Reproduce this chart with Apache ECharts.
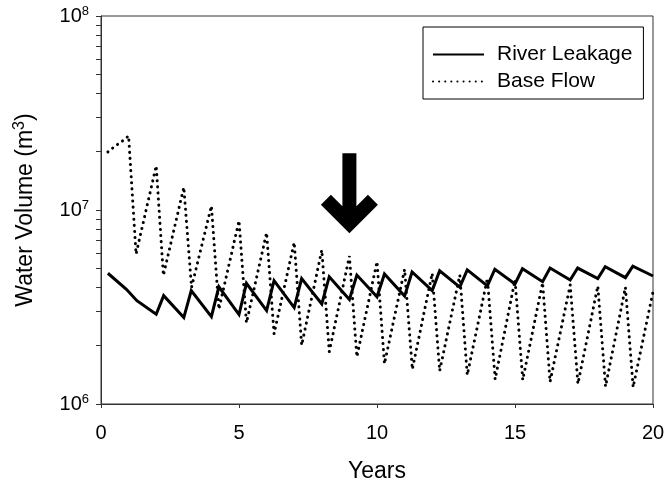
<!DOCTYPE html>
<html>
<head>
	<meta charset="utf-8" />
	<title>Water Volume</title>
	<script src="https://cdn.jsdelivr.net/npm/echarts@6/dist/echarts.min.js"></script>
	<style>
		html, body { margin: 0; padding: 0; background: #fff; }
		#chart { width: 666px; height: 485px; }
	</style>
</head>
<body>
<div id="chart"></div>
<script type="text/javascript">
// River leakage, years and values (m3)
var leakYears = [0.25, 0.92, 1.3, 2, 2.27, 3, 3.27, 4, 4.27, 5, 5.27, 6, 6.27, 7, 7.27, 8, 8.27, 9, 9.27, 10,
	10.27, 11, 11.27, 12, 12.27, 13, 13.27, 14, 14.27, 15, 15.27, 16, 16.27, 17, 17.27, 18, 18.27, 19, 19.27, 20];
var leakValues = [4.72e6, 3.90e6, 3.41e6, 2.90e6, 3.62e6, 2.79e6, 3.84e6, 2.82e6, 4.02e6, 2.89e6,
	4.19e6, 3.03e6, 4.32e6, 3.14e6, 4.43e6, 3.28e6, 4.53e6, 3.46e6, 4.62e6, 3.57e6,
	4.68e6, 3.60e6, 4.79e6, 3.84e6, 4.86e6, 4.00e6, 4.91e6, 4.06e6, 4.95e6, 4.16e6,
	4.98e6, 4.27e6, 5.02e6, 4.36e6, 5.02e6, 4.43e6, 5.10e6, 4.48e6, 5.13e6, 4.57e6];

// Base flow
var baseYears = [0.25, 0.5, 0.75, 1, 1.27, 2, 2.26, 3, 3.28, 4, 4.27, 5, 5.27, 6, 6.27, 7, 7.27, 8, 8.27, 9, 9.27, 10,
	10.27, 11, 11.28, 12, 12.27, 13, 13.27, 14, 14.28, 15, 15.28, 16, 16.27, 17, 17.28, 18, 18.28, 19, 19.28, 20];
var baseValues = [19.9e6, 21.3e6, 22.5e6, 24.1e6, 5.93e6, 16.9e6, 4.60e6, 13.1e6, 3.99e6, 10.5e6, 3.08e6,
	8.81e6, 2.62e6, 7.64e6, 2.30e6, 6.81e6, 2.01e6, 6.22e6, 1.86e6, 5.79e6, 1.75e6, 5.42e6,
	1.61e6, 4.95e6, 1.51e6, 4.72e6, 1.48e6, 4.62e6, 1.41e6, 4.45e6, 1.34e6, 4.36e6, 1.33e6,
	4.22e6, 1.30e6, 4.11e6, 1.27e6, 4.06e6, 1.23e6, 4.00e6, 1.22e6, 3.79e6];

var xTicks = [0, 5, 10, 15, 20];
var yMajor = [1e6, 1e7, 1e8];
var yMinor = [2e6, 3e6, 4e6, 5e6, 6e6, 7e6, 8e6, 9e6, 2e7, 3e7, 4e7, 5e7, 6e7, 7e7, 8e7, 9e7];

// arrow marker: year 9, centred around 1.22e7
var arrowAt = [9, 1.22e7];

function pairs(xs, ys) {
	var out = [];
	for (var i = 0; i < xs.length; i++) out.push([xs[i], ys[i]]);
	return out;
}

var font = 'Liberation Sans, Arial, sans-serif';
var myChart = echarts.init(document.getElementById('chart'));
var option = {
	animation: false,
	textStyle: { fontFamily: font, color: '#000' },
	grid: {
		left: 101, right: 13, top: 16, bottom: 81,
		outerBoundsMode: 'none',
		show: true, borderColor: '#333', borderWidth: 1
	},
	legend: {
		orient: 'vertical',
		left: 423, top: 27,
		padding: [17, 11, 7, 9],
		borderColor: '#000', borderWidth: 1,
		itemWidth: 51, itemHeight: 14, itemGap: 6,
		itemStyle: { opacity: 0 },
		textStyle: { fontFamily: font, fontSize: 21, color: '#000', padding: [0, 0, 0, 8] },
		data: ['River Leakage', 'Base Flow']
	},
	xAxis: {
		type: 'value',
		min: 0, max: 20, interval: 5,
		name: 'Years',
		nameLocation: 'middle',
		nameGap: 56,
		nameTextStyle: { fontFamily: font, fontSize: 23, color: '#000' },
		axisLine: { lineStyle: { color: '#333' } },
		axisTick: { show: true, length: 4, lineStyle: { color: '#333' } },
		axisLabel: { fontFamily: font, fontSize: 20, color: '#000', margin: 19, customValues: xTicks },
		splitLine: { show: false }
	},
	yAxis: {
		type: 'log',
		logBase: 10,
		min: 1e6, max: 1e8,
		name: '{a|Water Volume (m}{s|3}{a|)}',
		nameLocation: 'middle',
		nameGap: 62,
		nameTextStyle: {
			rich: {
				a: { fontFamily: font, fontSize: 23, color: '#000' },
				s: { fontFamily: font, fontSize: 16, color: '#000', padding: [0, 0, 11, 0] }
			}
		},
		axisLine: { show: true, lineStyle: { color: '#333' } },
		axisTick: { show: true, length: 5, customValues: yMajor.concat(yMinor), lineStyle: { color: '#333' } },
		axisLabel: {
			customValues: yMajor,
			margin: 12,
			formatter: function (v) {
				return '{b|10}{s|' + Math.round(Math.log10(v)) + '}';
			},
			rich: {
				b: { fontFamily: font, fontSize: 20, color: '#000' },
				s: { fontFamily: font, fontSize: 13, color: '#000', padding: [0, 0, 9, 0] }
			}
		},
		splitLine: { show: false }
	},
	series: [
		{
			name: 'River Leakage',
			type: 'line',
			symbol: 'none',
			data: pairs(leakYears, leakValues),
			lineStyle: { color: '#000', width: 3, join: 'miter' },
			itemStyle: { color: '#000' },
			markPoint: {
				silent: true,
				symbol: 'path://M0,51.5 L10,41.5 L21.5,53 L21.5,0 L35.5,0 L35.5,53 L47,41.5 L57,51.5 L28.5,80 Z',
				symbolSize: [57, 80],
				itemStyle: { color: '#000' },
				label: { show: false },
				data: [{ coord: arrowAt }]
			}
		},
		{
			name: 'Base Flow',
			type: 'line',
			symbol: 'none',
			data: pairs(baseYears, baseValues),
			lineStyle: { color: '#000', width: 3, type: [0.1, 6], cap: 'round' },
			itemStyle: { color: '#000' }
		}
	]
};
myChart.setOption(option);
</script>
</body>
</html>
